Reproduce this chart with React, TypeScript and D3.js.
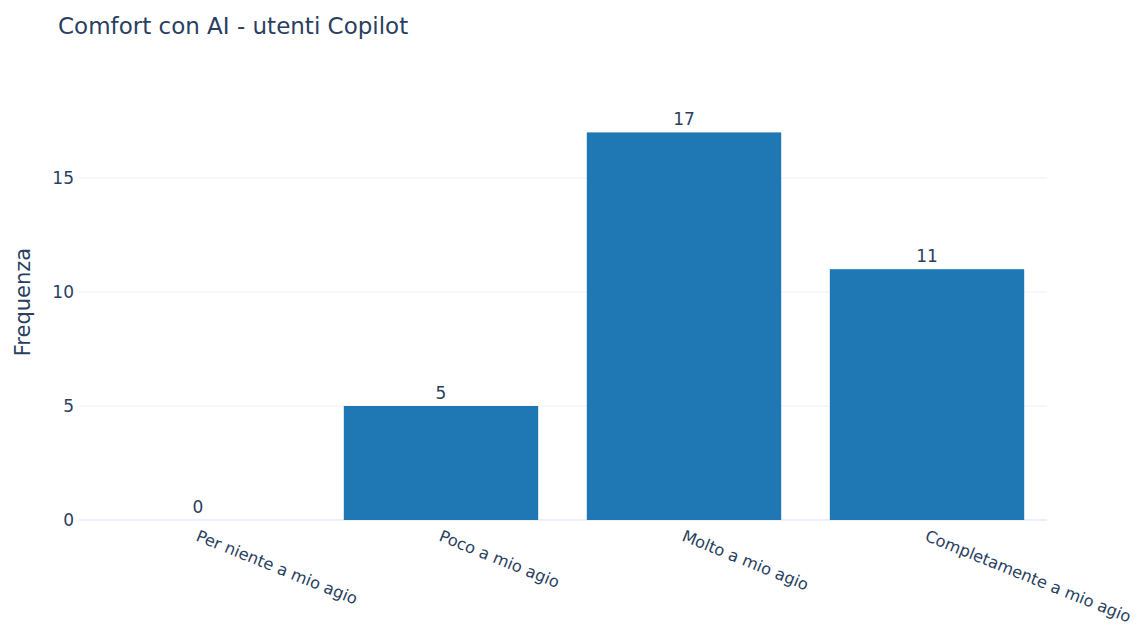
import React from "react";
import * as d3 from "d3";

const categories = [
  "Per niente a mio agio",
  "Poco a mio agio",
  "Molto a mio agio",
  "Completamente a mio agio",
];
const counts = [0, 5, 17, 11];
const yTicks = [0, 5, 10, 15];

const W = 1137;
const H = 632;
const FONT = "'DejaVu Sans', Verdana, sans-serif";
const TEXT = "#2a3f5f";
const GRID = "#ebf0f8";
const BAR = "#1f77b4";
const LABEL_ANGLE = 22;

export default function App() {
  const x = d3
    .scaleBand<string>()
    .domain(categories)
    .range([76.5, 1048.5])
    .paddingInner(0.2)
    .paddingOuter(0.1);
  const y = d3.scaleLinear().domain([0, 20]).range([520, 64]);

  return (
    <svg
      width={W}
      height={H}
      style={{ position: "absolute", left: 0, top: 0, background: "#fff" }}
      fontFamily={FONT}
    >
      <text x={58} y={34} fontSize={23} fill={TEXT}>
        Comfort con AI - utenti Copilot
      </text>

      {yTicks.map((t) => (
        <g key={t}>
          <line
            x1={79}
            x2={1047}
            y1={y(t)}
            y2={y(t)}
            stroke={GRID}
            strokeWidth={t === 0 ? 2 : 1}
          />
          <text
            x={74}
            y={y(t)}
            dy="0.35em"
            textAnchor="end"
            fontSize={17}
            fill={TEXT}
          >
            {t}
          </text>
        </g>
      ))}

      <text
        transform={`translate(30,${302}) rotate(-90)`}
        textAnchor="middle"
        fontSize={21}
        fill={TEXT}
      >
        Frequenza
      </text>

      {categories.map((c, i) => {
        const bx = x(c)!;
        const bw = x.bandwidth();
        const v = counts[i];
        const cx = bx + bw / 2;
        return (
          <g key={c}>
            <rect x={bx} y={y(v)} width={bw} height={y(0) - y(v)} fill={BAR} />
            <text
              x={cx}
              y={y(v) - 7}
              textAnchor="middle"
              fontSize={17}
              fill={TEXT}
            >
              {v}
            </text>
            <text
              transform={`translate(${cx - 1},${535}) rotate(${LABEL_ANGLE})`}
              fontSize={16.2}
              fill={TEXT}
              dy="0.35em"
            >
              {c}
            </text>
          </g>
        );
      })}
    </svg>
  );
}
